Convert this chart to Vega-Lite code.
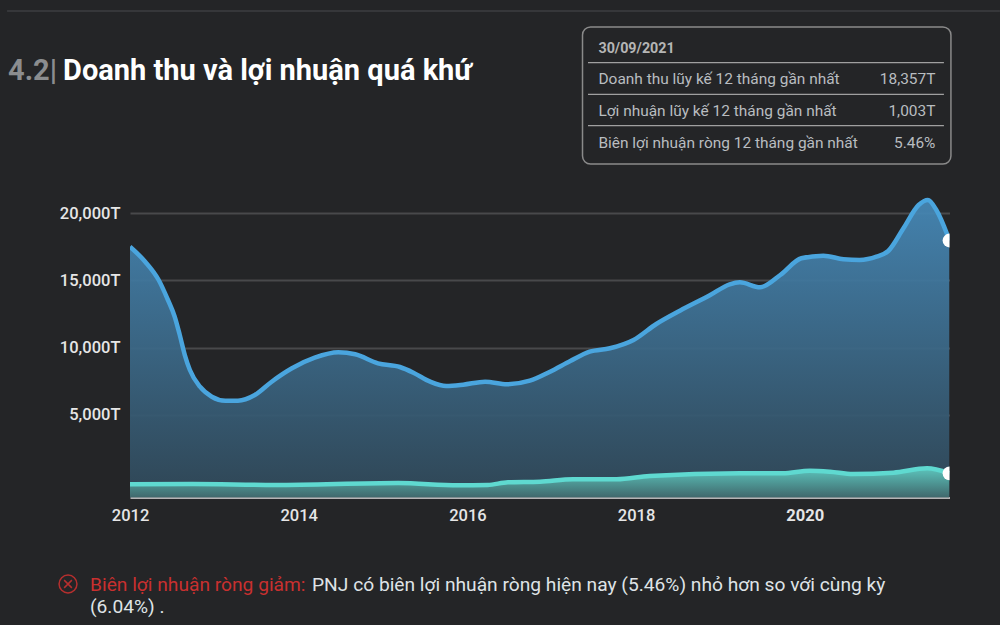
{"$schema":"https://vega.github.io/schema/vega-lite/v6.json","width":819.5,"height":333.5,"autosize":{"type":"none"},"padding":{"left":130,"top":164,"right":50.5,"bottom":127.5},"background":"#242527","config":{"view":{"stroke":null},"text":{"font":"Roboto"}},
"datasets":{
"revenue":[{"year":2012.00,"value":17523},{"year":2012.18,"value":16403},{"year":2012.34,"value":15037},{"year":2012.45,"value":13545},{"year":2012.53,"value":12299},{"year":2012.59,"value":10933},{"year":2012.65,"value":9440},{"year":2012.71,"value":8321},{"year":2012.83,"value":7075},{"year":2012.97,"value":6328},{"year":2013.13,"value":6030},{"year":2013.28,"value":6030},{"year":2013.48,"value":6455},{"year":2013.68,"value":7448},{"year":2013.92,"value":8448},{"year":2014.19,"value":9239},{"year":2014.47,"value":9642},{"year":2014.67,"value":9493},{"year":2014.94,"value":8821},{"year":2015.20,"value":8545},{"year":2015.36,"value":8119},{"year":2015.56,"value":7448},{"year":2015.75,"value":7127},{"year":2015.95,"value":7224},{"year":2016.21,"value":7448},{"year":2016.47,"value":7254},{"year":2016.74,"value":7522},{"year":2016.98,"value":8194},{"year":2017.22,"value":8993},{"year":2017.45,"value":9687},{"year":2017.69,"value":9940},{"year":2017.97,"value":10560},{"year":2018.24,"value":11754},{"year":2018.52,"value":12746},{"year":2018.88,"value":13918},{"year":2019.11,"value":14716},{"year":2019.23,"value":14866},{"year":2019.47,"value":14493},{"year":2019.71,"value":15410},{"year":2019.96,"value":16657},{"year":2020.22,"value":16851},{"year":2020.46,"value":16582},{"year":2020.65,"value":16530},{"year":2020.85,"value":16776},{"year":2020.99,"value":17202},{"year":2021.17,"value":18896},{"year":2021.35,"value":20634},{"year":2021.46,"value":21008},{"year":2021.56,"value":20261},{"year":2021.716,"value":17985}],
"profit":[{"year":2012.00,"value":-209},{"year":2012.74,"value":-187},{"year":2013.72,"value":-261},{"year":2015.18,"value":-112},{"year":2015.89,"value":-284},{"year":2016.24,"value":-261},{"year":2016.48,"value":-60},{"year":2016.86,"value":-15},{"year":2017.25,"value":164},{"year":2017.77,"value":164},{"year":2018.16,"value":410},{"year":2019.23,"value":612},{"year":2019.74,"value":612},{"year":2020.06,"value":806},{"year":2020.30,"value":731},{"year":2020.57,"value":560},{"year":2021.05,"value":657},{"year":2021.45,"value":985},{"year":2021.716,"value":612}],
"latest":[{"year":2021.716,"value":17985},{"year":2021.716,"value":612}],
"tableLeft":[{"x":2017.554,"y":29642,"label":"Doanh thu lũy kế 12 tháng gần nhất"},{"x":2017.554,"y":27276,"label":"Lợi nhuận lũy kế 12 tháng gần nhất"},{"x":2017.554,"y":24911,"label":"Biên lợi nhuận ròng 12 tháng gần nhất"}],
"tableRight":[{"x":2021.549,"y":29642,"label":"18,357T"},{"x":2021.549,"y":27276,"label":"1,003T"},{"x":2021.549,"y":24911,"label":"5.46%"}],
"dividers":[{"x":2017.43,"x2":2021.65,"y":31254},{"x":2017.43,"x2":2021.65,"y":28895},{"x":2017.43,"x2":2021.65,"y":26552}],
"footer":[{"x":2014.158,"y":-8149,"label":"PNJ có biên lợi nhuận ròng hiện nay (5.46%) nhỏ hơn so với cùng kỳ"},{"x":2011.526,"y":-9791,"label":"(6.04%) ."}]
},
"layer":[
{"data":{"name":"revenue"},"mark":{"type":"area","interpolate":"monotone","clip":true,"opacity":0.93,"color":{"x1":0,"y1":0,"x2":0,"y2":1,"gradient":"linear","stops":[{"offset":0,"color":"#4689b8"},{"offset":1,"color":"#304858"}]}},"encoding":{
"x":{"field":"year","type":"quantitative","title":null,"scale":{"domain":[2012,2021.716],"nice":false,"zero":false},"axis":{"values":[2012,2014,2016,2018,2020],"format":"d","grid":false,"ticks":false,"domainColor":"#b5b5b5","domainWidth":2,"labelColor":"#e6e6e6","labelFont":"Roboto","labelFontSize":16.5,"labelFontWeight":{"condition":{"test":"datum.value==2020","value":"bold"},"value":500},"labelPadding":10,"labelFlush":false,"labelOverlap":false}},
"y":{"field":"value","type":"quantitative","title":null,"scale":{"domain":[-1194,23694],"nice":false,"zero":false},"axis":{"values":[5000,10000,15000,20000],"labelExpr":"format(datum.value,',')+'T'","domain":false,"ticks":false,"grid":true,"gridColor":"#48494b","gridWidth":2,"labelColor":"#e6e6e6","labelFont":"Roboto","labelFontSize":16.5,"labelFontWeight":500,"labelPadding":10}},
"y2":{"datum":-1194}}},
{"data":{"name":"profit"},"mark":{"type":"area","interpolate":"monotone","clip":true,"color":{"x1":0,"y1":0,"x2":0,"y2":1,"gradient":"linear","stops":[{"offset":0,"color":"#5cc4bc"},{"offset":1,"color":"#40686c"}]}},"encoding":{"x":{"field":"year","type":"quantitative"},"y":{"field":"value","type":"quantitative"},"y2":{"datum":-1194}}},
{"data":{"name":"revenue"},"mark":{"type":"line","interpolate":"monotone","clip":true,"color":"#4aa5de","strokeWidth":4.5},"encoding":{"x":{"field":"year","type":"quantitative"},"y":{"field":"value","type":"quantitative"}}},
{"data":{"name":"profit"},"mark":{"type":"line","interpolate":"monotone","clip":true,"color":"#5fd9d0","strokeWidth":4.5},"encoding":{"x":{"field":"year","type":"quantitative"},"y":{"field":"value","type":"quantitative"}}},
{"mark":{"type":"rule","color":"#8a8a8a","strokeWidth":1.5},"encoding":{"x":{"datum":2021.716,"type":"quantitative"},"y":{"datum":23694,"type":"quantitative"},"y2":{"datum":-1194}}},
{"data":{"name":"latest"},"mark":{"type":"point","filled":true,"color":"white","opacity":1,"size":190,"clip":true},"encoding":{"x":{"field":"year","type":"quantitative"},"y":{"field":"value","type":"quantitative"}}},
{"data":{"values":[{"x":2017.365,"x2":2021.733,"y":33918,"y2":23694}]},"mark":{"type":"rect","fill":"#242527","stroke":"#8a8a8a","strokeWidth":1.5,"cornerRadius":8},"encoding":{"x":{"field":"x","type":"quantitative"},"x2":{"field":"x2"},"y":{"field":"y","type":"quantitative"},"y2":{"field":"y2"}}},
{"data":{"name":"dividers"},"mark":{"type":"rule","color":"#a0a0a0","strokeWidth":1.2},"encoding":{"x":{"field":"x","type":"quantitative"},"x2":{"field":"x2"},"y":{"field":"y","type":"quantitative"}}},
{"data":{"values":[{"x":2010.542,"x2":2022.314,"y":35112}]},"mark":{"type":"rule","color":"#36373a","strokeWidth":2},"encoding":{"x":{"field":"x","type":"quantitative"},"x2":{"field":"x2"},"y":{"field":"y","type":"quantitative"}}},
{"data":{"values":[{"x":2017.554,"y":32000,"label":"30/09/2021"}]},"mark":{"type":"text","align":"left","baseline":"alphabetic","font":"Roboto","fontSize":14.3,"fontWeight":"bold","color":"#b5b5b5"},"encoding":{"x":{"field":"x","type":"quantitative"},"y":{"field":"y","type":"quantitative"},"text":{"field":"label"}}},
{"data":{"name":"tableLeft"},"mark":{"type":"text","align":"left","baseline":"alphabetic","font":"Roboto","fontSize":15.45,"color":"#b9bdc0"},"encoding":{"x":{"field":"x","type":"quantitative"},"y":{"field":"y","type":"quantitative"},"text":{"field":"label"}}},
{"data":{"name":"tableRight"},"mark":{"type":"text","align":"right","baseline":"alphabetic","font":"Roboto","fontSize":15.45,"color":"#b9bdc0"},"encoding":{"x":{"field":"x","type":"quantitative"},"y":{"field":"y","type":"quantitative"},"text":{"field":"label"}}},
{"data":{"values":[{"x":2010.554,"y":29963,"label":"4.2|"}]},"mark":{"type":"text","align":"left","baseline":"alphabetic","font":"Roboto","fontSize":29,"fontWeight":"bold","color":"#8b8d8f"},"encoding":{"x":{"field":"x","type":"quantitative"},"y":{"field":"y","type":"quantitative"},"text":{"field":"label"}}},
{"data":{"values":[{"x":2011.206,"y":29963,"label":"Doanh thu và lợi nhuận quá khứ"}]},"mark":{"type":"text","align":"left","baseline":"alphabetic","font":"Roboto","fontSize":29,"fontWeight":"bold","color":"#ffffff"},"encoding":{"x":{"field":"x","type":"quantitative"},"y":{"field":"y","type":"quantitative"},"text":{"field":"label"}}},
{"data":{"values":[{"x":2011.526,"y":-8149,"label":"Biên lợi nhuận ròng giảm:"}]},"mark":{"type":"text","align":"left","baseline":"alphabetic","font":"Roboto","fontSize":19.2,"fontWeight":"normal","color":"#c9302f"},"encoding":{"x":{"field":"x","type":"quantitative"},"y":{"field":"y","type":"quantitative"},"text":{"field":"label"}}},
{"data":{"name":"footer"},"mark":{"type":"text","align":"left","baseline":"alphabetic","font":"Roboto","fontSize":19.2,"fontWeight":"normal","color":"#dfe3e6"},"encoding":{"x":{"field":"x","type":"quantitative"},"y":{"field":"y","type":"quantitative"},"text":{"field":"label"}}},
{"data":{"values":[{"x":2011.265,"y":-7649}]},"mark":{"type":"point","shape":"circle","filled":false,"color":"#b52f2e","strokeWidth":1.5,"size":320,"opacity":1},"encoding":{"x":{"field":"x","type":"quantitative"},"y":{"field":"y","type":"quantitative"}}},
{"data":{"values":[{"x":2011.265,"y":-7649}]},"mark":{"type":"point","shape":"M-1,-1L1,1M-1,1L1,-1","filled":false,"color":"#b52f2e","strokeWidth":1.5,"size":60,"opacity":1},"encoding":{"x":{"field":"x","type":"quantitative"},"y":{"field":"y","type":"quantitative"}}}
]}
